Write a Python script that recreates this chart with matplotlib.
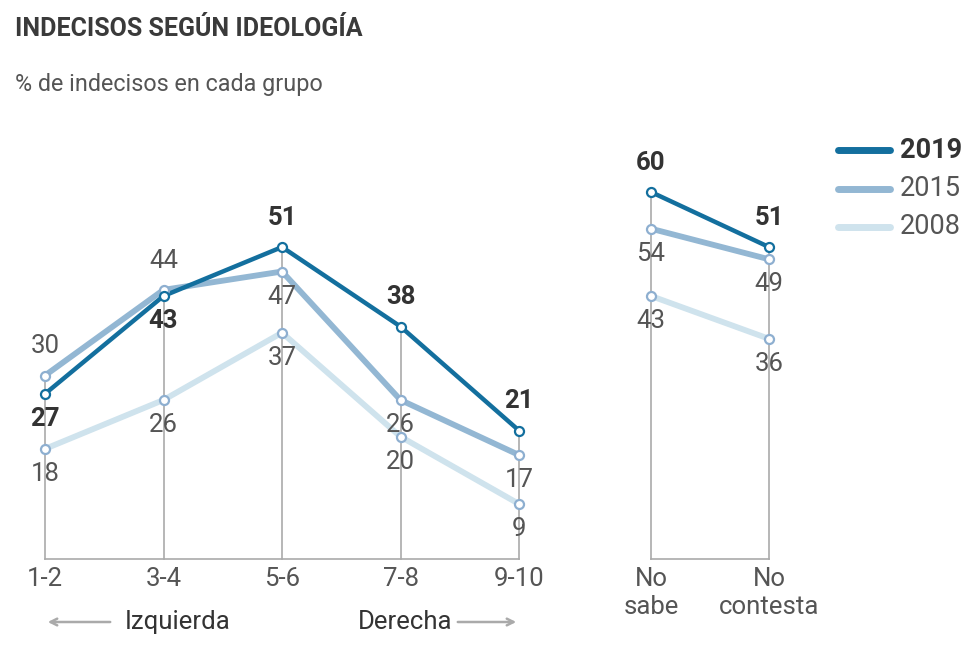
import matplotlib.pyplot as plt
from matplotlib.patches import FancyArrowPatch

plt.rcParams['font.family'] = ['Roboto', 'DejaVu Sans']

# Data
grupos = ['1-2', '3-4', '5-6', '7-8', '9-10']
extra = ['No\nsabe', 'No\ncontesta']
years = ['2019', '2015', '2008']
ideologia = {
    '2019': [27, 43, 51, 38, 21],
    '2015': [30, 44, 47, 26, 17],
    '2008': [18, 26, 37, 20, 9],
}
ns_nc = {
    '2019': [60, 51],
    '2015': [54, 49],
    '2008': [43, 36],
}
# label above (+1) or below (-1) the point
pos_left = {
    '2019': [-1, -1, 1, 1, 1],
    '2015': [1, 1, -1, -1, -1],
    '2008': [-1, -1, -1, -1, -1],
}
pos_right = {'2019': [1, 1], '2015': [-1, -1], '2008': [-1, -1]}

line_col = {'2019': '#136f9e', '2015': '#93b7d3', '2008': '#cfe3ed'}
edge_col = {'2019': '#136f9e', '2015': '#8eafd0', '2008': '#8eafd0'}
lw = {'2019': 3.2, '2015': 4.2, '2008': 4.2}
grey = '#aaaaaa'
txt = '#555555'
dark = '#333333'
fs = 18.5

W, H = 980, 650
fig = plt.figure(figsize=(9.8, 6.5), dpi=100)

y0, y60 = 559, 192
bottom = (H - y0) / H
height = (y0 - y60) / H
axL = fig.add_axes([45 / W, bottom, 474 / W, height])
axR = fig.add_axes([651 / W, bottom, 118 / W, height])


def draw(ax, cats, data, pos):
    xs = list(range(len(cats)))
    for i in xs:
        top = max(data[y][i] for y in years)
        ax.plot([i, i], [0, top], color=grey, lw=1.2, zorder=1, clip_on=False)
    ax.plot([0, len(cats) - 1], [0, 0], color=grey, lw=1.2, zorder=1, clip_on=False)
    for y in ['2008', '2015', '2019']:
        ax.plot(xs, data[y], color=line_col[y], lw=lw[y], zorder=2,
                solid_capstyle='butt', clip_on=False)
        ax.plot(xs, data[y], ls='none', marker='o', ms=6.5, mfc='white',
                mec=edge_col[y], mew=1.6, zorder=3, clip_on=False)
        for i, v in enumerate(data[y]):
            bold = y == '2019'
            off = 21 if pos[y][i] > 0 else -18
            ax.annotate(str(v), (i, v), xytext=(0, off),
                        textcoords='offset points', ha='center', va='center',
                        fontsize=fs, color=dark if bold else txt,
                        fontweight='bold' if bold else 'normal', zorder=4)
    ax.set_xlim(0, len(cats) - 1)
    ax.set_ylim(0, 60)
    ax.set_xticks(xs)
    ax.set_xticklabels(cats, fontsize=fs, color=txt, linespacing=1.2, va='top')
    ax.tick_params(axis='x', length=0, pad=6)
    ax.set_yticks([])
    for s in ax.spines.values():
        s.set_visible(False)
    ax.patch.set_visible(False)


draw(axL, grupos, ideologia, pos_left)
draw(axR, extra, ns_nc, pos_right)

# Title and subtitle
fig.text(15 / W, 1 - 29 / H, 'INDECISOS SEGÚN IDEOLOGÍA', fontsize=18,
         fontweight='bold', color='#3a3a3a', va='center')
fig.text(15 / W, 1 - 84 / H, '% de indecisos en cada grupo', fontsize=16.8,
         color=txt, va='center')

# Izquierda / Derecha arrows
ya = 1 - 622 / H
fig.text(125 / W, ya, 'Izquierda', fontsize=fs, color=dark, va='center')
fig.text(452 / W, ya, 'Derecha', fontsize=fs, color=dark, va='center', ha='right')
arr = dict(arrowstyle='->', color=grey, lw=1.8, mutation_scale=12)
fig.patches.append(FancyArrowPatch((113 / W, ya), (45 / W, ya),
                                   transform=fig.transFigure, **arr))
fig.patches.append(FancyArrowPatch((455 / W, ya), (519 / W, ya),
                                   transform=fig.transFigure, **arr))

# Legend
for k, y in enumerate(years):
    yy = 1 - (150 + 38.5 * k) / H
    fig.add_artist(plt.Line2D([838 / W, 890 / W], [yy, yy], color=line_col[y],
                              lw=5, solid_capstyle='round'))
    fig.text(900 / W, yy, y, fontsize=19.5, va='center',
             color=dark if y == '2019' else txt,
             fontweight='bold' if y == '2019' else 'normal')

fig.savefig('out.png', dpi=100, facecolor='white')
